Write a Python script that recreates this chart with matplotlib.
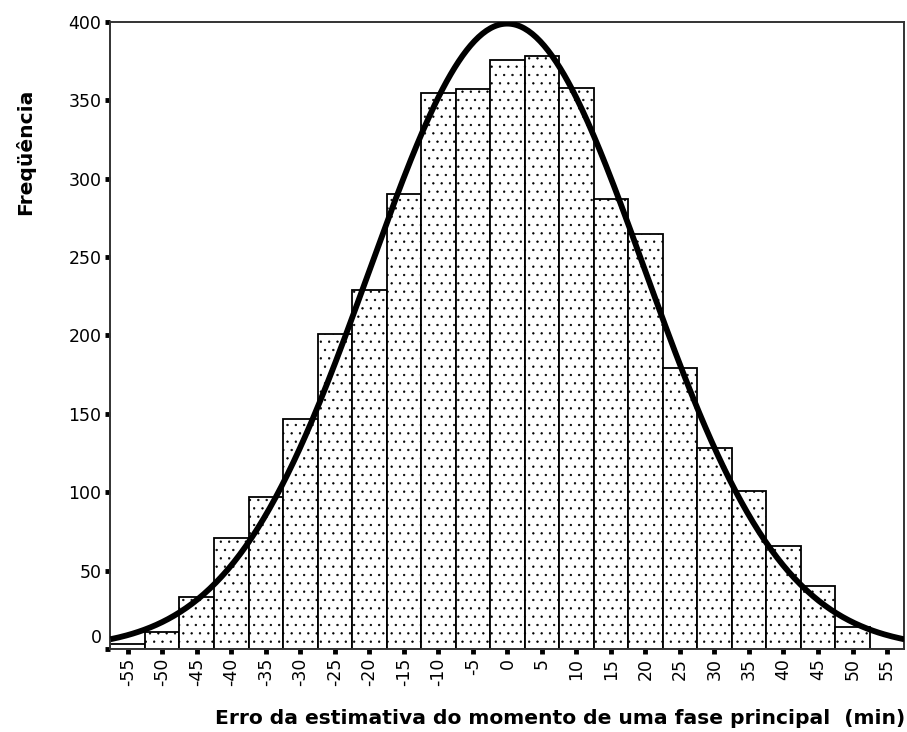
import numpy as np
import matplotlib.pyplot as plt
import matplotlib.transforms as mtransforms

# bin centres (min) and counts
bins = np.arange(-55, 60, 5)
counts = [3, 11, 33, 71, 97, 147, 201, 229, 290, 355, 357, 376,
          378, 358, 287, 265, 179, 128, 101, 66, 40, 14, 0]
yticks = [0, 50, 100, 150, 200, 250, 300, 350, 400]

counts = np.array(counts)
width = 5
N = counts.sum()

# normal curve fitted to the binned data (as the stats package does)
mean = (bins * counts).sum() / N
sd = np.sqrt((counts * (bins - mean) ** 2).sum() / N)

plt.rcParams['font.family'] = 'DejaVu Sans'
plt.rcParams['hatch.linewidth'] = 0.45

fig = plt.figure(figsize=(9.07, 7.32), dpi=100)
ax = fig.add_axes([0.1218, 0.1134, 0.8752, 0.8566])

ax.bar(bins, counts, width=width, color='white', edgecolor='black',
       linewidth=1.3, hatch='..', zorder=2)

xs = np.linspace(-57.5, 57.5, 400)
curve = N * width / (sd * np.sqrt(2 * np.pi)) * np.exp(-(xs - mean) ** 2 / (2 * sd ** 2))
ax.plot(xs, curve, color='black', linewidth=4.2, solid_capstyle='butt', zorder=3)

ax.set_xlim(-57.5, 57.5)
ax.set_ylim(0, 400)
ax.set_xticks(bins)
ax.set_xticklabels([str(b) for b in bins], rotation=90, fontsize=12.5)
ax.set_yticks(yticks)
ax.set_yticklabels([str(v) for v in yticks], fontsize=12.5)
ax.tick_params(axis='both', direction='out', length=3.5, width=3.5, pad=3)

for s in ax.spines.values():
    s.set_linewidth(1.4)
    s.set_color('#333333')

# the "0" label sits a bit above the axis in the original
off = mtransforms.ScaledTranslation(0, 13 / 100, fig.dpi_scale_trans)
lab0 = ax.get_yticklabels()[0]
lab0.set_transform(lab0.get_transform() + off)

fig.text(25 / 907, 1 - 152 / 732, 'Freqüência', rotation=90, fontsize=14.6,
         fontweight='bold', ha='center', va='center')
fig.text(905 / 907, 1 - 718 / 732,
         'Erro da estimativa do momento de uma fase principal  (min)',
         fontsize=14.6, fontweight='bold', ha='right', va='center')

plt.savefig('out.png', dpi=100)
